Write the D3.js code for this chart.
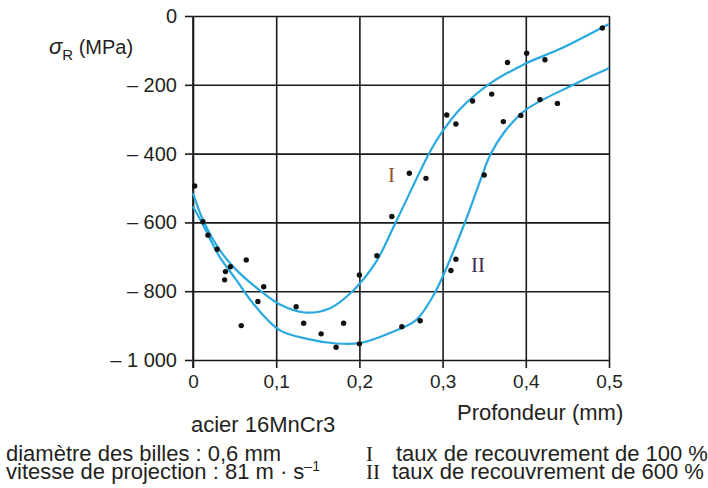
<!DOCTYPE html>
<html><head><meta charset="utf-8">
<script src="https://cdn.jsdelivr.net/npm/d3@7"></script>
<style>
html,body{margin:0;padding:0;background:#fff;}
svg{display:block;}
text{font-family:"Liberation Sans",Arial,Helvetica,sans-serif;fill:#231f20;}
text.serif{font-family:"Liberation Serif","DejaVu Serif",serif;}
</style></head>
<body>
<svg id="c" width="708" height="488"></svg>
<script>
// ---- data ----
const xTicks = [0, 0.1, 0.2, 0.3, 0.4, 0.5];
const xTickLabels = ["0", "0,1", "0,2", "0,3", "0,4", "0,5"];
const yTicks = [0, -200, -400, -600, -800, -1000];
const yTickLabels = ["0", "\u2013 200", "\u2013 400", "\u2013 600", "\u2013 800", "\u2013 1 000"];

const pointsX = [0.002,0.012,0.018,0.029,0.045,0.039,0.038,0.064,0.085,0.078,0.058,0.124,0.133,0.154,0.181,0.172,0.200,0.200,0.221,0.239,
                 0.316,0.310,0.273,0.251,0.260,0.280,0.350,0.305,0.316,0.336,0.359,0.373,0.394,0.417,0.438,0.378,0.401,0.423,0.492];
const pointsY = [-494,-598,-637,-678,-729,-743,-767,-709,-787,-830,-900,-845,-893,-924,-893,-963,-953,-753,-697,-583,
                 -707,-740,-886,-903,-457,-472,-462,-288,-314,-247,-227,-307,-289,-243,-254,-135,-108,-127,-35];

const curveIX = [0,0.012,0.032,0.052,0.08,0.104,0.134,0.164,0.193,0.22,0.245,0.285,0.3,0.32,0.356,0.4,0.44,0.5];
const curveIY = [-515,-593,-680,-738,-797,-838,-862,-850,-797,-715,-593,-394,-335,-273,-198,-138,-97,-23];
const curveIIX = [0,0.012,0.032,0.052,0.072,0.104,0.14,0.172,0.2,0.236,0.268,0.288,0.3,0.328,0.345,0.358,0.375,0.4,0.457,0.5];
const curveIIY = [-554,-607,-700,-767,-835,-913,-940,-952,-951,-922,-884,-816,-758,-593,-480,-400,-335,-273,-200,-152];

const seriesLabels = ["I", "II"];

// ---- chart ----
const svg = d3.select("#c");
const x = d3.scaleLinear().domain([0, 0.5]).range([193, 609]);
const y = d3.scaleLinear().domain([0, -1000]).range([16, 360]);
const ink = "#1a1a1a";

// grid
svg.append("g").attr("transform", `translate(0,${y(-1000)})`)
  .call(d3.axisBottom(x).tickValues(xTicks).tickSize(-(y(-1000) - y(0))).tickFormat(""))
  .call(g => g.select(".domain").remove())
  .call(g => g.selectAll("line").attr("stroke", ink).attr("stroke-width", 1.6));
svg.append("g").attr("transform", `translate(${x(0)},0)`)
  .call(d3.axisLeft(y).tickValues(yTicks).tickSize(-(x(0.5) - x(0))).tickFormat(""))
  .call(g => g.select(".domain").remove())
  .call(g => g.selectAll("line").attr("stroke", ink).attr("stroke-width", 1.6));

// axes with ticks & labels
const ax = svg.append("g").attr("transform", `translate(0,${y(-1000)})`)
  .call(d3.axisBottom(x).tickValues(xTicks).tickSize(8).tickPadding(7).tickFormat((d, i) => xTickLabels[i]));
ax.select(".domain").remove();
ax.selectAll("line").attr("stroke", ink).attr("stroke-width", 1.6);
ax.selectAll("text").attr("font-size", 19).attr("font-family", null).style("fill", "#231f20");

const ay = svg.append("g").attr("transform", `translate(${x(0)},0)`)
  .call(d3.axisLeft(y).tickValues(yTicks).tickSize(8).tickPadding(8).tickFormat((d, i) => yTickLabels[i]));
ay.select(".domain").attr("stroke", ink).attr("stroke-width", 1.6).attr("d", `M0,${y(0)}V${y(-1000) + 8}`);
ay.selectAll("line").attr("stroke", ink).attr("stroke-width", 1.6);
ay.selectAll("text").attr("font-size", 20).attr("font-family", null).style("fill", "#231f20");

// curves
const line = d3.line().x(d => x(d[0])).y(d => y(d[1])).curve(d3.curveCatmullRom.alpha(0.5));
const cI = curveIX.map((v, i) => [v, curveIY[i]]);
const cII = curveIIX.map((v, i) => [v, curveIIY[i]]);
[cI, cII].forEach(c => svg.append("path").datum(c).attr("d", line)
  .attr("fill", "none").attr("stroke", "#29a9e0").attr("stroke-width", 2.2));

// points
svg.append("g").selectAll("circle").data(pointsX).join("circle")
  .attr("cx", d => x(d)).attr("cy", (d, i) => y(pointsY[i])).attr("r", 2.7).attr("fill", "#111");

// series labels
svg.append("text").attr("class", "serif").attr("x", 388).attr("y", 182).text(seriesLabels[0])
  .attr("font-size", 21).style("fill", "#8a5526");
svg.append("text").attr("class", "serif").attr("x", 471).attr("y", 272).text(seriesLabels[1])
  .attr("font-size", 21).style("fill", "#3f2a4e");

// titles
const yl = svg.append("text").attr("x", 49).attr("y", 54).attr("font-size", 20);
yl.append("tspan").text("\u03c3").attr("font-style", "italic").attr("font-size", 22);
yl.append("tspan").text("R").attr("dy", 6).attr("font-size", 15);
yl.append("tspan").text(" (MPa)").attr("dy", -6);

svg.append("text").attr("x", 457).attr("y", 420).attr("font-size", 22).text("Profondeur (mm)");
svg.append("text").attr("x", 191).attr("y", 432).attr("font-size", 22).text("acier 16MnCr3");
svg.append("text").attr("x", 6).attr("y", 461).attr("font-size", 22).text("diam\u00e8tre des billes : 0,6 mm");
const v = svg.append("text").attr("x", 6).attr("y", 479).attr("font-size", 22);
v.append("tspan").text("vitesse de projection : 81 m \u00b7 s");
v.append("tspan").text("\u20131").attr("dy", -8).attr("font-size", 14);

svg.append("text").attr("class", "serif").attr("x", 366).attr("y", 461).attr("font-size", 21).text(seriesLabels[0]);
svg.append("text").attr("x", 396).attr("y", 461).attr("font-size", 22).text("taux de recouvrement de 100 %");
svg.append("text").attr("class", "serif").attr("x", 366).attr("y", 479).attr("font-size", 21).text(seriesLabels[1]);
svg.append("text").attr("x", 392).attr("y", 479).attr("font-size", 22).text("taux de recouvrement de 600 %");
</script>
</body></html>
